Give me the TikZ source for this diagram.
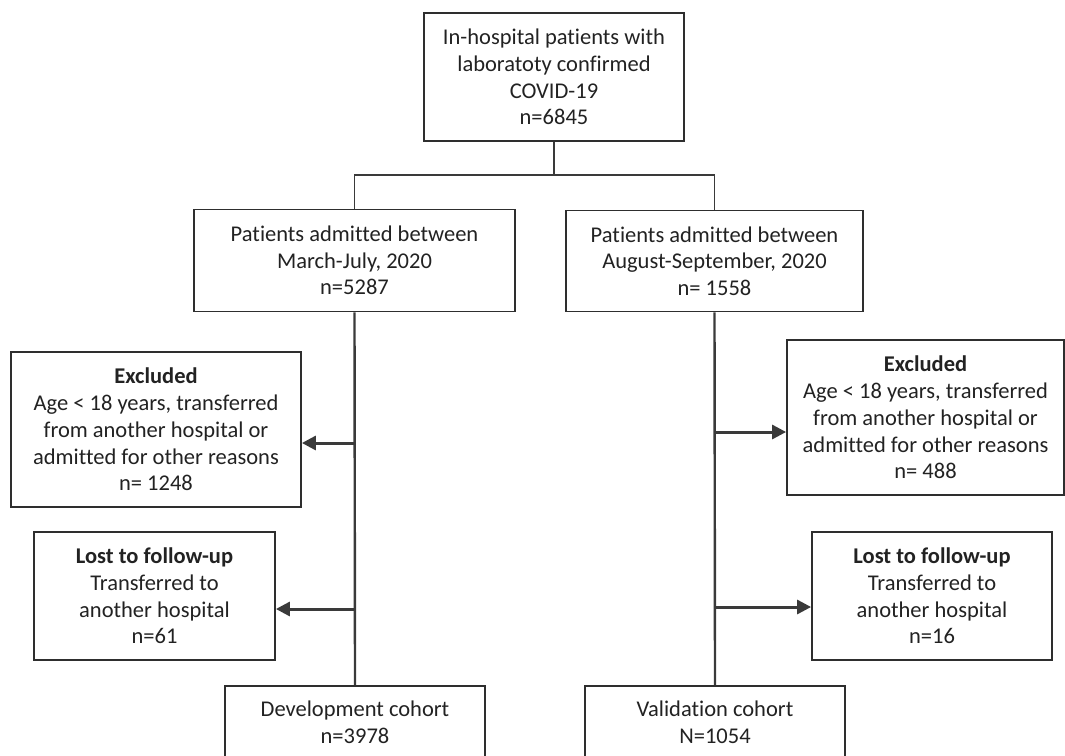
\documentclass[tikz,border=0pt]{standalone}
\usepackage{fontspec}
\setmainfont{Carlito}[Ligatures=NoCommon]
\usetikzlibrary{arrows.meta}
\definecolor{boxc}{HTML}{2E2E2E}
\definecolor{linec}{HTML}{3A3A3A}
\definecolor{txtc}{HTML}{222222}
\begin{document}
\begin{tikzpicture}[x=1pt,y=-1pt,
  box/.style={draw=boxc, line width=1.8pt, inner sep=0pt, align=center, text=txtc, font=\fontsize{22.5}{26.7}\selectfont},
  thinline/.style={draw=linec, line width=1.3pt},
  trunk/.style={draw=linec, line width=2.4pt},
  arr/.style={draw=linec, line width=3pt, -{Triangle[length=14pt,width=14pt]}}]
\useasboundingbox (0,0) rectangle (1065,755);
\clip (0,0) rectangle (1065,755);
% boxes
\node[box, minimum width=260pt, minimum height=128pt] (top) at (554,77)
  {In-hospital patients with\\laboratoty confirmed\\COVID-19\\n=6845};
\node[box, minimum width=321pt, minimum height=102pt] (mL) at (354.5,260.5)
  {Patients admitted between\\March-July, 2020\\n=5287};
\node[box, minimum width=297pt, minimum height=101pt] (mR) at (714.5,261)
  {Patients admitted between\\August-September, 2020\\n= 1558};
\node[box, minimum width=290pt, minimum height=155pt] (exL) at (156,429.5)
  {\textbf{Excluded}\\Age < 18 years, transferred\\from another hospital or\\admitted for other reasons\\n= 1248};
\node[box, minimum width=277pt, minimum height=155pt] (exR) at (925.5,417.5)
  {\textbf{Excluded}\\Age < 18 years, transferred\\from another hospital or\\admitted for other reasons\\n= 488};
\node[box, minimum width=241pt, minimum height=128pt] (lostL) at (154.5,596)
  {\textbf{Lost to follow-up}\\Transferred to\\another hospital\\n=61};
\node[box, minimum width=240pt, minimum height=128pt] (lostR) at (932,596)
  {\textbf{Lost to follow-up}\\Transferred to\\another hospital\\n=16};
\node[box, minimum width=260pt, minimum height=72pt] (dev) at (355,722)
  {Development cohort\\n=3978};
\node[box, minimum width=260pt, minimum height=72pt] (val) at (715,722)
  {Validation cohort\\N=1054};
% connectors
\coordinate (split) at (554,175);
\draw[thinline] (top.south) -- (split);
\draw[thinline] (split) -| (mL.north);
\draw[thinline] (split) -| (mR.north);
\draw[trunk] (mL.south) -- (dev.north);
\draw[trunk] (mR.south) -- (val.north);
\coordinate (jL1) at (354.5,443);
\coordinate (jL2) at (354.5,609);
\coordinate (jR1) at (714.5,432);
\coordinate (jR2) at (714.5,607);
\draw[arr] (jL1) -- (exL.east |- jL1);
\draw[arr] (jL2) -- (lostL.east |- jL2);
\draw[arr] (jR1) -- (exR.west |- jR1);
\draw[arr] (jR2) -- (lostR.west |- jR2);
\end{tikzpicture}
\end{document}
